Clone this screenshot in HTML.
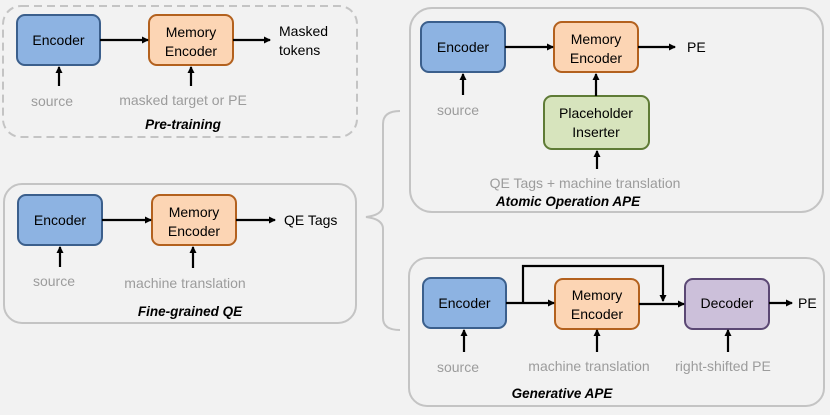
<!DOCTYPE html>
<html><head><meta charset="utf-8"><style>
html,body{margin:0;padding:0;background:#f2f2f2;}
svg{display:block;font-family:"Liberation Sans",sans-serif;}
.t{font-size:14px;fill:#000;}
.g{font-size:14px;fill:#9c9c9c;}
.l{font-size:13.5px;font-weight:bold;font-style:italic;fill:#000;}
.enc{fill:#8db3e2;stroke:#3b5f8c;stroke-width:2;}
.mem{fill:#fcd5b4;stroke:#b3611e;stroke-width:2;}
.dec{fill:#ccc0da;stroke:#5b4874;stroke-width:2;}
.ph{fill:#d7e4bd;stroke:#5f7b36;stroke-width:2;}
.a{stroke:#000;stroke-width:2.2;fill:none;}
.frame{fill:none;stroke:#c4c4c4;stroke-width:2;}
</style></head><body>
<svg width="830" height="415" viewBox="0 0 830 415">
<defs><marker id="ar" markerWidth="8" markerHeight="8" refX="6" refY="4" orient="auto" markerUnits="userSpaceOnUse"><path d="M0,0.5 L7,4 L0,7.5 Z" fill="#000"/></marker></defs>
<rect class="frame" x="3" y="6" width="354" height="131" rx="18" stroke-dasharray="8,5"/>
<rect class="frame" x="4" y="184" width="352" height="139" rx="18"/>
<rect class="frame" x="410" y="8" width="413" height="204" rx="22"/>
<rect class="frame" x="409" y="258" width="415" height="148" rx="18"/>
<path class="frame" d="M400,111 Q383,111 383,124 L383,205 Q383,215 366,217 Q383,219 383,229 L383,318 Q383,330 400,330"/>

<rect class="enc" x="17" y="15" width="83" height="50" rx="8"/><text class="t" x="58.5" y="45" text-anchor="middle">Encoder</text>
<rect class="mem" x="149" y="15" width="84" height="50" rx="8"/><text class="t" x="191" y="37" text-anchor="middle">Memory</text><text class="t" x="191" y="56" text-anchor="middle">Encoder</text>
<line class="a" x1="100" y1="40" x2="148" y2="40" marker-end="url(#ar)"/>
<line class="a" x1="233" y1="40" x2="270" y2="40" marker-end="url(#ar)"/>
<text class="t" x="279" y="36">Masked</text><text class="t" x="279" y="55">tokens</text>
<line class="a" x1="59" y1="86" x2="59" y2="67" marker-end="url(#ar)"/>
<line class="a" x1="191" y1="86" x2="191" y2="67" marker-end="url(#ar)"/>
<text class="g" x="52" y="106" text-anchor="middle">source</text>
<text class="g" x="183" y="105" text-anchor="middle">masked target or PE</text>
<text class="l" x="183" y="129" text-anchor="middle">Pre-training</text>

<rect class="enc" x="18" y="195" width="84" height="50" rx="8"/><text class="t" x="60" y="225" text-anchor="middle">Encoder</text>
<rect class="mem" x="152" y="195" width="84" height="50" rx="8"/><text class="t" x="194" y="217" text-anchor="middle">Memory</text><text class="t" x="194" y="236" text-anchor="middle">Encoder</text>
<line class="a" x1="102" y1="220" x2="151" y2="220" marker-end="url(#ar)"/>
<line class="a" x1="236" y1="220" x2="275" y2="220" marker-end="url(#ar)"/>
<text class="t" x="284" y="225">QE Tags</text>
<line class="a" x1="60" y1="267" x2="60" y2="247" marker-end="url(#ar)"/>
<line class="a" x1="193" y1="268" x2="193" y2="247" marker-end="url(#ar)"/>
<text class="g" x="54" y="286" text-anchor="middle">source</text>
<text class="g" x="185" y="288" text-anchor="middle">machine translation</text>
<text class="l" x="190" y="316" text-anchor="middle">Fine-grained QE</text>

<rect class="enc" x="421" y="22" width="84" height="50" rx="8"/><text class="t" x="463" y="52" text-anchor="middle">Encoder</text>
<rect class="mem" x="554" y="22" width="84" height="50" rx="8"/><text class="t" x="596" y="44" text-anchor="middle">Memory</text><text class="t" x="596" y="63" text-anchor="middle">Encoder</text>
<line class="a" x1="505" y1="47" x2="553" y2="47" marker-end="url(#ar)"/>
<line class="a" x1="638" y1="47" x2="675" y2="47" marker-end="url(#ar)"/>
<text class="t" x="687" y="52">PE</text>
<line class="a" x1="463" y1="95" x2="463" y2="74" marker-end="url(#ar)"/>
<text class="g" x="458" y="115" text-anchor="middle">source</text>
<rect class="ph" x="544" y="96" width="105" height="53" rx="8"/><text class="t" x="596" y="118" text-anchor="middle">Placeholder</text><text class="t" x="596" y="137" text-anchor="middle">Inserter</text>
<line class="a" x1="596" y1="96" x2="596" y2="74" marker-end="url(#ar)"/>
<line class="a" x1="597" y1="169" x2="597" y2="151" marker-end="url(#ar)"/>
<text class="g" x="585" y="188" text-anchor="middle">QE Tags + machine translation</text>
<text class="l" x="568" y="206" text-anchor="middle">Atomic Operation APE</text>

<rect class="enc" x="423" y="278" width="83" height="50" rx="8"/><text class="t" x="464.5" y="308" text-anchor="middle">Encoder</text>
<rect class="mem" x="555" y="279" width="84" height="50" rx="8"/><text class="t" x="597" y="300" text-anchor="middle">Memory</text><text class="t" x="597" y="319" text-anchor="middle">Encoder</text>
<rect class="dec" x="685" y="279" width="84" height="50" rx="8"/><text class="t" x="727" y="308" text-anchor="middle">Decoder</text>
<line class="a" x1="506" y1="303" x2="554" y2="303" marker-end="url(#ar)"/>
<path class="a" d="M523,303 L523,266 L663,266 L663,301" marker-end="url(#ar)"/>
<line class="a" x1="639" y1="304" x2="684" y2="304" marker-end="url(#ar)"/>
<line class="a" x1="769" y1="303" x2="792" y2="303" marker-end="url(#ar)"/>
<text class="t" x="798" y="308">PE</text>
<line class="a" x1="464" y1="352" x2="464" y2="330" marker-end="url(#ar)"/>
<line class="a" x1="597" y1="352" x2="597" y2="330" marker-end="url(#ar)"/>
<line class="a" x1="728" y1="352" x2="728" y2="330" marker-end="url(#ar)"/>
<text class="g" x="458" y="372" text-anchor="middle">source</text>
<text class="g" x="589" y="371" text-anchor="middle">machine translation</text>
<text class="g" x="723" y="371" text-anchor="middle">right-shifted PE</text>
<text class="l" x="562" y="398" text-anchor="middle">Generative APE</text>
</svg>
</body></html>
